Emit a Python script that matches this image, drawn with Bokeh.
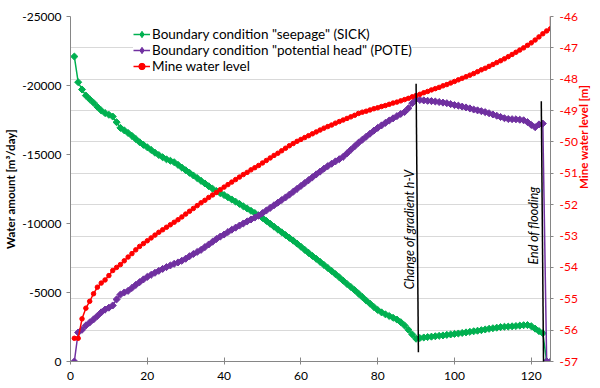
import math
from bokeh.plotting import figure
from bokeh.models import (Range1d, LinearAxis, FixedTicker, Grid, Legend,
                          LegendItem, Arrow, ColumnDataSource)
from bokeh.core.properties import value
from bokeh.embed import file_html
from bokeh.resources import INLINE

# ---------------- data ----------------
sick_days = list(range(1, 125))
sick = [
    -22100, -20240, -19710, -19270, -19000, -18750, -18450, -18190, -18000, -17880,
    -17750, -17340, -16930, -16750, -16560, -16350, -16120, -15890, -15700, -15520,
    -15330, -15130, -14960, -14800, -14650, -14550, -14440, -14250, -14050, -13860,
    -13670, -13480, -13290, -13090, -12900, -12700, -12520, -12350, -12200, -12060,
    -11900, -11740, -11580, -11420, -11250, -11090, -10920, -10760, -10590, -10400,
    -10190, -9980, -9770, -9560, -9360, -9160, -8960, -8760, -8540, -8320,
    -8090, -7870, -7650, -7440, -7220, -7000, -6780, -6560, -6330, -6100,
    -5860, -5620, -5400, -5170, -4920, -4670, -4420, -4190, -3950, -3730,
    -3560, -3420, -3300, -3170, -3040, -2850, -2610, -2300, -1960, -1650,
    -1700, -1740, -1770, -1800, -1830, -1860, -1890, -1930, -1960, -2000,
    -2030, -2070, -2110, -2150, -2190, -2230, -2270, -2320, -2370, -2410,
    -2450, -2490, -2520, -2530, -2550, -2570, -2600, -2630, -2640, -2560,
    -2380, -2200, -2050, 0,
]

pote_days = list(range(1, 126))
pote = [
    0, -2100, -2300, -2610, -2830, -3050, -3300, -3560, -3760, -3900,
    -4060, -4500, -4850, -5000, -5120, -5330, -5550, -5750, -5950, -6130,
    -6280, -6430, -6570, -6710, -6840, -6960, -7080, -7180, -7300, -7450,
    -7630, -7790, -7940, -8090, -8290, -8480, -8680, -8880, -9050, -9200,
    -9380, -9550, -9700, -9850, -10000, -10150, -10290, -10430, -10570, -10750,
    -10940, -11130, -11320, -11510, -11700, -11890, -12090, -12300, -12510, -12720,
    -12930, -13140, -13350, -13560, -13760, -13970, -14160, -14330, -14500, -14660,
    -14830, -15080, -15340, -15590, -15850, -16070, -16290, -16510, -16730, -16930,
    -17110, -17290, -17460, -17620, -17780, -17940, -18080, -18350, -18720, -19000,
    -18950, -18920, -18890, -18870, -18840, -18800, -18760, -18720, -18650, -18580,
    -18540, -18470, -18410, -18340, -18260, -18200, -18140, -18070, -17990, -17900,
    -17810, -17720, -17630, -17570, -17560, -17550, -17520, -17480, -17350, -17140,
    -16980, -17180, -17240, 0, 0,
]

level_days = list(range(1, 126)) + [125]
level = [
    -56.26, -56.26, -55.64, -55.30, -55.08, -54.84, -54.63, -54.50, -54.40, -54.26,
    -54.10, -54.00, -53.91, -53.79, -53.67, -53.56, -53.44, -53.33, -53.24, -53.15,
    -53.06, -52.97, -52.88, -52.80, -52.72, -52.64, -52.56, -52.48, -52.39, -52.30,
    -52.21, -52.12, -52.03, -51.94, -51.86, -51.77, -51.69, -51.61, -51.52, -51.44,
    -51.36, -51.28, -51.20, -51.12, -51.04, -50.97, -50.89, -50.82, -50.75, -50.67,
    -50.59, -50.51, -50.43, -50.36, -50.28, -50.20, -50.12, -50.05, -49.98, -49.92,
    -49.86, -49.80, -49.74, -49.68, -49.62, -49.56, -49.51, -49.46, -49.40, -49.35,
    -49.30, -49.25, -49.20, -49.15, -49.09, -49.05, -49.02, -48.98, -48.94, -48.91,
    -48.87, -48.84, -48.80, -48.76, -48.73, -48.69, -48.65, -48.61, -48.56, -48.52,
    -48.48, -48.43, -48.39, -48.34, -48.30, -48.26, -48.21, -48.17, -48.12, -48.07,
    -48.02, -47.97, -47.92, -47.87, -47.82, -47.76, -47.70, -47.65, -47.59, -47.53,
    -47.47, -47.41, -47.35, -47.28, -47.21, -47.14, -47.07, -47.00, -46.92, -46.84,
    -46.75, -46.65, -46.55, -46.46, -46.39, -45.00,
]

x_ticks = [0, 20, 40, 60, 80, 100, 120]
left_ticks = [0, -5000, -10000, -15000, -20000, -25000]
left_labels = ["0", "-5000", "-10000", "-15000", "-20000", "-25000"]
right_ticks = [-57, -56, -55, -54, -53, -52, -51, -50, -49, -48, -47, -46]
right_labels = ["-57", "-56", "-55", "-54", "-53", "-52", "-51", "-50", "-49", "-48", "-47", "-46"]

series_names = ['Boundary condition "seepage" (SICK)',
                'Boundary condition "potential head" (POTE)',
                'Mine water level']

# annotation lines (day, water amount) and texts
change_line = dict(x0=90.0, y0=-20120, x1=90.6, y1=-670)
end_line = dict(x0=122.6, y0=-18860, x1=123.2, y1=700)
annot_x = [88.2, 120.5]
annot_y = [-9670, -9855]
annot_text = ["Change of  gradient h-V", "End of flooding"]

# ---------------- styling ----------------
FONT = "Lato"
GREEN = "#00B050"
PURPLE = "#7030A0"
RED = "#FF0000"
AXIS = "#868686"
GRID = "#D9D9D9"
TICK_FS = "12px"
TITLE_FS = "11.5px"

p = figure(width=600, height=388, output_backend="svg", toolbar_location=None,
           x_range=Range1d(0, 125), y_range=Range1d(0, -25000),
           min_border_left=70, min_border_right=50, min_border_top=16,
           min_border_bottom=27)
p.extra_y_ranges = {"level": Range1d(-57, -46)}
p.outline_line_color = None
p.background_fill_color = "white"
p.border_fill_color = "white"
p.xgrid.visible = False
p.ygrid.visible = False

grid = Grid(dimension=1, ticker=FixedTicker(ticks=right_ticks), y_range_name="level",
            grid_line_color=GRID, grid_line_width=1)
p.add_layout(grid)

# x axis
xa = p.xaxis[0]
xa.ticker = FixedTicker(ticks=x_ticks)
xa.axis_line_color = AXIS
xa.major_tick_line_color = AXIS
xa.major_tick_in = 4
xa.major_tick_out = 3
xa.minor_tick_line_color = None
xa.major_label_standoff = 7
xa.major_label_text_font = FONT
xa.major_label_text_font_size = TICK_FS
xa.major_label_text_color = "black"

# left axis
ya = p.yaxis[0]
ya.ticker = FixedTicker(ticks=left_ticks)
ya.major_label_overrides = {t: l for t, l in zip(left_ticks, left_labels)}
ya.axis_line_color = AXIS
ya.major_tick_line_color = AXIS
ya.major_tick_in = 0
ya.major_tick_out = 4
ya.minor_tick_line_color = None
ya.major_label_standoff = 5
ya.major_label_text_font = FONT
ya.major_label_text_font_size = TICK_FS
ya.major_label_text_color = "black"
ya.axis_label = "Water amount [m³/day]"
ya.axis_label_text_font = FONT
ya.axis_label_text_font_style = "bold"
ya.axis_label_text_font_size = TITLE_FS
ya.axis_label_text_color = "black"
ya.axis_label_standoff = 2

# right axis
ra = LinearAxis(y_range_name="level", ticker=FixedTicker(ticks=right_ticks))
ra.major_label_overrides = {t: l for t, l in zip(right_ticks, right_labels)}
ra.axis_line_color = AXIS
ra.major_tick_line_color = AXIS
ra.major_tick_in = 0
ra.major_tick_out = 3
ra.minor_tick_line_color = None
ra.major_label_standoff = 6
ra.major_label_text_font = FONT
ra.major_label_text_font_size = TICK_FS
ra.major_label_text_color = RED
ra.axis_label = "Mine water level [m]"
ra.axis_label_text_font = FONT
ra.axis_label_text_font_style = "bold"
ra.axis_label_text_font_size = TITLE_FS
ra.axis_label_text_color = RED
ra.axis_label_standoff = 3
ra.axis_label_orientation = math.pi / 2
p.add_layout(ra, "right")

# series
g_line = p.line(sick_days, sick, line_color=GREEN, line_width=1.5)
g_pts = p.scatter(sick_days, sick, marker="square", angle=math.pi / 4, size=5,
                  fill_color=GREEN, line_color=GREEN)
v_line = p.line(pote_days, pote, line_color=PURPLE, line_width=1.5)
v_pts = p.scatter(pote_days, pote, marker="square", angle=math.pi / 4, size=5,
                  fill_color=PURPLE, line_color=PURPLE)
r_line = p.line(level_days, level, line_color=RED, line_width=1.5, y_range_name="level")
r_pts = p.scatter(level_days, level, marker="circle", size=4.5, fill_color=RED,
                  line_color=RED, y_range_name="level")

# legend-only diamond markers (single undrawn NaN point each)
nan = float("nan")
g_key = p.scatter(x="x", y="y", source=ColumnDataSource(dict(x=[nan], y=[nan])),
                  marker="diamond", size=8, fill_color=GREEN, line_color=GREEN)
v_key = p.scatter(x="x", y="y", source=ColumnDataSource(dict(x=[nan], y=[nan])),
                  marker="diamond", size=8, fill_color=PURPLE, line_color=PURPLE)

# annotations
for ln in (change_line, end_line):
    p.add_layout(Arrow(end=None, x_start=ln["x0"], y_start=ln["y0"],
                       x_end=ln["x1"], y_end=ln["y1"],
                       line_color="black", line_width=1.5))
p.text(x=annot_x, y=annot_y, text=annot_text, angle=math.pi / 2,
       text_font=value(FONT), text_font_style="italic", text_font_size="12.5px",
       text_align="center", text_baseline="middle", text_color="black")

legend = Legend(items=[
    LegendItem(label=series_names[0], renderers=[g_line, g_key]),
    LegendItem(label=series_names[1], renderers=[v_line, v_key]),
    LegendItem(label=series_names[2], renderers=[r_line, r_pts]),
], location=(63, 287))
legend.label_text_font = FONT
legend.label_text_font_size = "13.5px"
legend.label_text_color = "black"
legend.glyph_width = 17
legend.glyph_height = 16
legend.label_height = 16
legend.label_standoff = 2
legend.spacing = 0
legend.padding = 4
legend.margin = 0
legend.border_line_color = None
legend.background_fill_color = "white"
legend.background_fill_alpha = 1.0
p.add_layout(legend)

open("out.html", "w").write(file_html(p, INLINE))
